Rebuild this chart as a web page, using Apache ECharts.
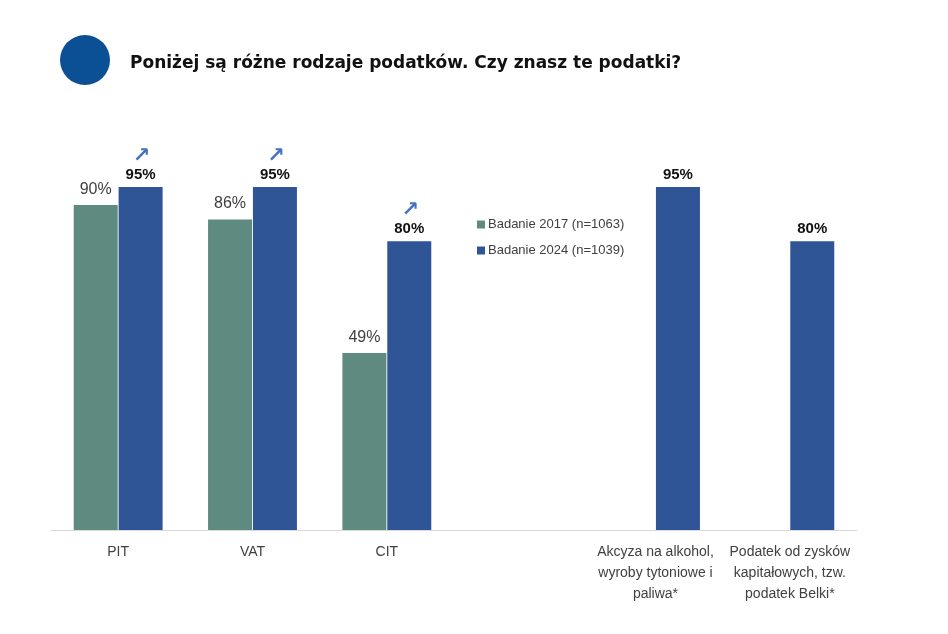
<!DOCTYPE html>
<html>
<head>
<meta charset="utf-8">
<script src="https://cdn.jsdelivr.net/npm/echarts@6/dist/echarts.min.js"></script>
<style>
  html, body { margin: 0; padding: 0; background: #fff; }
  #chart { width: 948px; height: 634px; }
</style>
</head>
<body>
<div id="chart"></div>
<script>
// dane wykresu
const categories = ['PIT', 'VAT', 'CIT', '', 'Akcyza na alkohol,\nwyroby tytoniowe i\npaliwa*', 'Podatek od zysków\nkapitałowych, tzw.\npodatek Belki*']
const values2017 = [90, 86, 49, null, null, null]
const values2024 = [95, 95, 80, null, 95, 80]
const trend2024 = ['↗', '↗', '↗', '', '', '']
const seriesNames = ['Badanie 2017 (n=1063)', 'Badanie 2024 (n=1039)']

const chart = echarts.init(document.getElementById('chart'))

const option = {
  backgroundColor: '#ffffff',
  animation: false,
  title: {
    text: 'Poniżej są różne rodzaje podatków. Czy znasz te podatki?',
    left: 125,
    top: 50,
    textStyle: {
      fontFamily: 'DejaVu Sans',
      fontWeight: 'bold',
      fontSize: 17,
      color: '#111111'
    }
  },
  graphic: [
    {
      type: 'circle',
      shape: { cx: 85, cy: 60, r: 25 },
      style: { fill: '#0b4f95' }
    }
  ],
  legend: {
    orient: 'vertical',
    left: 472,
    top: 213,
    itemWidth: 8,
    itemHeight: 8,
    itemGap: 13,
    icon: 'rect',
    data: seriesNames,
    textStyle: {
      fontFamily: 'Liberation Sans',
      fontSize: 13,
      color: '#404040',
      padding: [0, 0, 0, -2]
    }
  },
  grid: {
    left: 51,
    right: 91,
    top: 169,
    bottom: 104,
    containLabel: false
  },
  xAxis: {
    type: 'category',
    data: categories,
    axisTick: { show: false },
    axisLine: { lineStyle: { color: '#d9d9d9', width: 1 } },
    axisLabel: {
      interval: 0,
      margin: 12,
      fontFamily: 'Liberation Sans',
      fontSize: 14,
      color: '#404040',
      lineHeight: 21,
      align: 'center'
    }
  },
  yAxis: {
    type: 'value',
    min: 0,
    max: 100,
    show: false,
    splitLine: { show: false }
  },
  series: [
    {
      name: seriesNames[0],
      type: 'bar',
      data: values2017,
      barWidth: 44,
      barGap: '2%',
      itemStyle: { color: '#5f8a80' },
      label: {
        show: true,
        position: 'top',
        distance: 8,
        formatter: '{c}%',
        fontFamily: 'Liberation Sans',
        fontSize: 16,
        color: '#404040'
      }
    },
    {
      name: seriesNames[1],
      type: 'bar',
      data: values2024,
      barWidth: 44,
      itemStyle: { color: '#2f5597' },
      label: {
        show: true,
        position: 'top',
        distance: 3,
        formatter: p => {
          const a = trend2024[p.dataIndex]
          return a ? '{a|' + a + '}\n{v|' + p.value + '%}' : '{v|' + p.value + '%}'
        },
        rich: {
          a: {
            fontFamily: 'DejaVu Sans',
            fontSize: 21,
            color: '#4472c4',
            fontWeight: 'bold',
            padding: [0, 0, 0, 2],
            lineHeight: 20
          },
          v: {
            fontFamily: 'Liberation Sans',
            fontSize: 15,
            fontWeight: 'bold',
            color: '#111111',
            lineHeight: 18
          }
        }
      }
    }
  ]
}

chart.setOption(option)
</script>
</body>
</html>
